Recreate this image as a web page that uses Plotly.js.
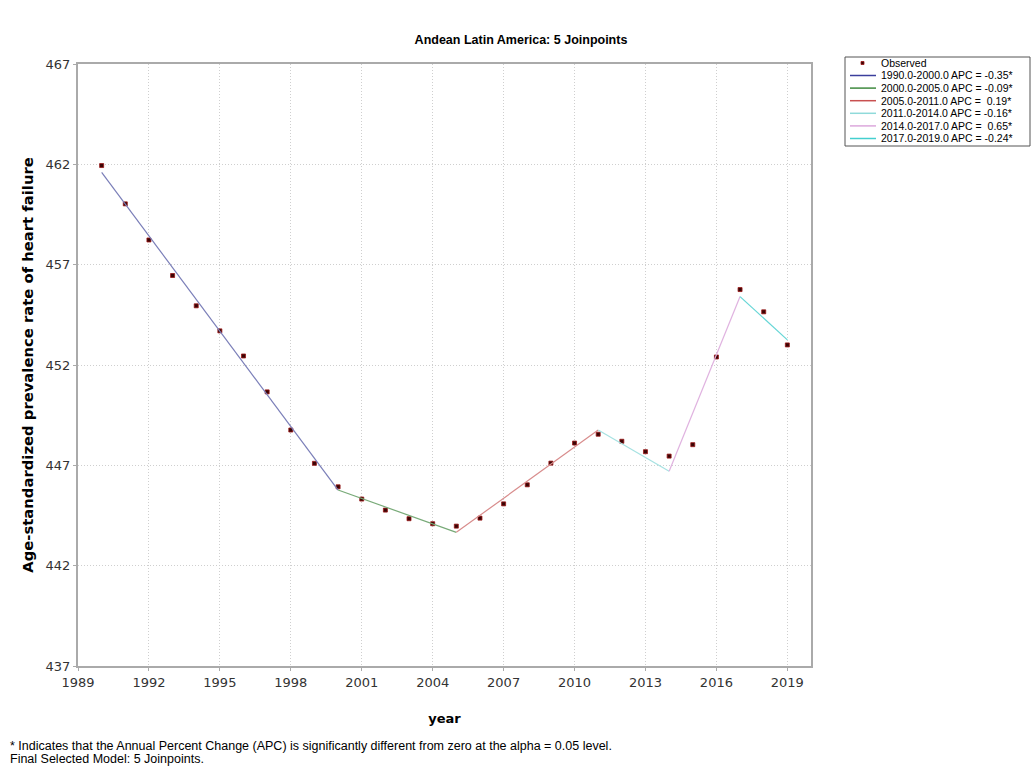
<!DOCTYPE html>
<html>
<head>
<meta charset="utf-8">
<script src="https://cdn.plot.ly/plotly-3.0.1.min.js"></script>
<style>html,body{margin:0;padding:0;background:#fff;}#chart{width:1032px;height:775px;}</style>
</head>
<body>
<div id="chart"></div>
<script>
// Observed data
const years = [1990,1991,1992,1993,1994,1995,1996,1997,1998,1999,2000,2001,2002,2003,2004,2005,2006,2007,2008,2009,2010,2011,2012,2013,2014,2015,2016,2017,2018,2019];
const observed = [461.94,460.03,458.23,456.46,454.95,453.70,452.45,450.66,448.76,447.10,445.93,445.32,444.77,444.34,444.09,443.97,444.37,445.08,446.03,447.11,448.11,448.55,448.20,447.68,447.46,448.03,452.40,455.76,454.65,453.00];

// Joinpoint segments (fitted values at segment ends)
const segLabels = ["1990.0-2000.0 APC = -0.35*","2000.0-2005.0 APC = -0.09*","2005.0-2011.0 APC =  0.19*","2011.0-2014.0 APC = -0.16*","2014.0-2017.0 APC =  0.65*","2017.0-2019.0 APC = -0.24*"];
const segStart = [1990,2000,2005,2011,2014,2017];
const segEnd = [2000,2005,2011,2014,2017,2019];
const fitStart = [461.60,445.77,443.66,448.76,446.70,455.41];
const fitEnd = [445.77,443.66,448.76,446.70,455.41,453.25];
const segColors = ["#7a7eb8","#78aa78","#d88c8c","#a6e2e2","#e0b2e0","#66d6d6"];
const legendColors = ["#3b3f9c","#3f8a3f","#c85050","#8fdada","#dca8dc","#44cfcf"];

const xTicks = [1989,1992,1995,1998,2001,2004,2007,2010,2013,2016,2019];
const yTicks = [437,442,447,452,457,462,467];

const traces = [{
  x: years, y: observed, mode: 'markers', type: 'scatter', name: 'Observed', showlegend: false,
  marker: {color: '#3a0505', size: 4, symbol: 'square', line: {color: '#9b1515', width: 0.8}}
}];
for (let i = 0; i < segLabels.length; i++) {
  traces.push({
    x: [segStart[i], segEnd[i]], y: [fitStart[i], fitEnd[i]], mode: 'lines', type: 'scatter',
    name: segLabels[i], showlegend: false, line: {color: segColors[i], width: 1.2}
  });
}

const W = 1032, H = 775, L = 78, R = 221, T = 64, B = 109;
const pw = W - L - R, ph = H - T - B;
const px = v => (v - L) / pw;
const py = v => (H - B - v) / ph;

const lfont = {family: 'Liberation Sans, Arial, sans-serif', size: 10.5, color: '#000'};
const shapes = [
  {type: 'rect', xref: 'paper', yref: 'paper', x0: px(845), x1: px(1030), y0: py(57), y1: py(146), line: {color: '#555', width: 1}, fillcolor: '#fff', layer: 'below'},
  {type: 'rect', xref: 'paper', yref: 'paper', x0: px(861), x1: px(864), y0: py(61.5), y1: py(64.5), line: {color: '#9b1515', width: 0.8}, fillcolor: '#3a0505'}
];
const annotations = [
  {text: 'Observed', xref: 'paper', yref: 'paper', x: px(879), y: py(63), xanchor: 'left', yanchor: 'middle', showarrow: false, font: lfont}
];
for (let i = 0; i < segLabels.length; i++) {
  const yy = 75.5 + i * 12.6;
  shapes.push({type: 'line', xref: 'paper', yref: 'paper', x0: px(850), x1: px(876), y0: py(yy), y1: py(yy), line: {color: legendColors[i], width: 1.5}});
  annotations.push({text: segLabels[i].replace(/  /g, '&nbsp; '), xref: 'paper', yref: 'paper', x: px(879), y: py(yy), xanchor: 'left', yanchor: 'middle', showarrow: false, font: lfont});
}
const ffont = {family: 'Liberation Sans, Arial, sans-serif', size: 12.5, color: '#000'};
annotations.push(
  {text: '* Indicates that the Annual Percent Change (APC) is significantly different from zero at the alpha = 0.05 level.', xref: 'paper', yref: 'paper', x: px(8), y: py(746), xanchor: 'left', yanchor: 'middle', showarrow: false, font: ffont},
  {text: 'Final Selected Model: 5 Joinpoints.', xref: 'paper', yref: 'paper', x: px(8), y: py(759), xanchor: 'left', yanchor: 'middle', showarrow: false, font: ffont}
);

const layout = {
  width: W, height: H,
  margin: {l: L, r: R, t: T, b: B, pad: 0},
  paper_bgcolor: '#fff', plot_bgcolor: '#fff',
  font: {family: 'DejaVu Sans, Verdana, sans-serif', size: 12, color: '#333'},
  title: {text: '<b>Andean Latin America: 5 Joinpoints</b>', font: {family: 'Liberation Sans, Arial, sans-serif', size: 12.5, color: '#000'}, x: 521/W, xref: 'container', y: 1 - 40/H, yref: 'container', yanchor: 'middle'},
  xaxis: {
    range: [1989, 2020], tickvals: xTicks, ticktext: xTicks.map(String),
    showgrid: true, gridcolor: '#cfcfcf', griddash: '1px,2px', gridwidth: 1,
    showline: true, linecolor: '#aaaaaa', linewidth: 2, mirror: true,
    ticks: 'outside', ticklen: 3, tickcolor: '#aaaaaa', zeroline: false,
    tickfont: {size: 13, color: '#333'},
    title: {text: '<b>year</b>', font: {size: 13, color: '#000'}, standoff: 25}
  },
  yaxis: {
    range: [437, 467], tickvals: yTicks, ticktext: yTicks.map(String),
    showgrid: true, gridcolor: '#cfcfcf', griddash: '1px,2px', gridwidth: 1,
    showline: true, linecolor: '#aaaaaa', linewidth: 2, mirror: true,
    ticks: 'outside', ticklen: 3, tickcolor: '#aaaaaa', zeroline: false,
    tickfont: {size: 13, color: '#333'},
    title: {text: '<b>Age-standardized prevalence rate of heart failure</b>', font: {size: 14.8, color: '#000'}, standoff: 8}
  },
  showlegend: false,
  shapes: shapes,
  annotations: annotations
};

Plotly.newPlot('chart', traces, layout, {displayModeBar: false, staticPlot: true});
</script>
</body>
</html>
